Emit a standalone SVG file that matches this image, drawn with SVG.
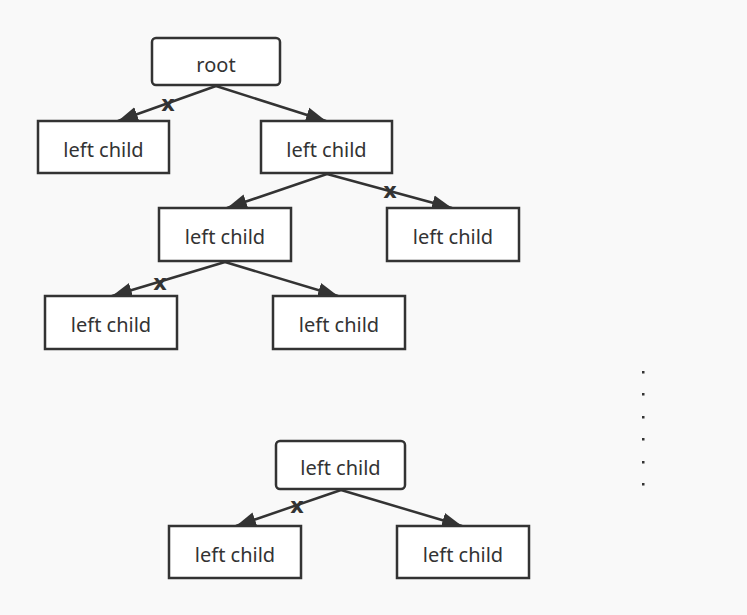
<svg xmlns="http://www.w3.org/2000/svg" width="747" height="615" viewBox="0 0 747 615">
<defs>
<style>
.box{fill:#fff;stroke:#333;stroke-width:2.5}
.lbl{font-family:"Noto Sans","Open Sans",sans-serif;font-size:20px;fill:#333;text-anchor:middle}
.edge{stroke:#333;stroke-width:2.5;fill:none;marker-end:url(#arr)}
.cut{font-family:"DejaVu Sans","Liberation Sans",sans-serif;font-size:21px;font-weight:bold;fill:#333;text-anchor:middle}
.dot{fill:#333}
</style>
<marker id="arr" markerUnits="userSpaceOnUse" markerWidth="22" markerHeight="18" viewBox="0 0 22 18" refX="20" refY="9" orient="auto">
<path d="M0,1.5 L20,9 L0,16.5 Z" fill="#333"/>
</marker>
</defs>
<rect width="747" height="615" fill="#f9f9f9"/>
<g id="connectors">
<line class="edge" x1="216" y1="86" x2="118" y2="121"/>
<line class="edge" x1="216" y1="86" x2="326" y2="121"/>
<line class="edge" x1="327" y1="174" x2="227" y2="208"/>
<line class="edge" x1="327" y1="174" x2="452" y2="208"/>
<line class="edge" x1="225" y1="262" x2="112" y2="296"/>
<line class="edge" x1="225" y1="262" x2="338" y2="296"/>
<line class="edge" x1="341" y1="490" x2="236" y2="526"/>
<line class="edge" x1="341" y1="490" x2="462" y2="526"/>
<text class="cut" x="168" y="111">x</text>
<text class="cut" x="390" y="198">x</text>
<text class="cut" x="160" y="290">x</text>
<text class="cut" x="297" y="513">x</text>
</g>
<g id="root"><rect class="box" x="152" y="38" width="128" height="47" rx="4"/><text class="lbl" x="216" y="72">root</text></g>
<g id="n1"><rect class="box" x="38" y="121" width="131" height="52"/><text class="lbl" x="103.5" y="157">left child</text></g>
<g id="n2"><rect class="box" x="261" y="121" width="131" height="52"/><text class="lbl" x="326.5" y="157">left child</text></g>
<g id="n3"><rect class="box" x="159" y="208" width="132" height="53"/><text class="lbl" x="225" y="244">left child</text></g>
<g id="n4"><rect class="box" x="387" y="208" width="132" height="53"/><text class="lbl" x="453" y="244">left child</text></g>
<g id="n5"><rect class="box" x="45" y="296" width="132" height="53"/><text class="lbl" x="111" y="332">left child</text></g>
<g id="n6"><rect class="box" x="273" y="296" width="132" height="53"/><text class="lbl" x="339" y="332">left child</text></g>
<g id="n7"><rect class="box" x="276" y="441" width="129" height="48" rx="4"/><text class="lbl" x="340.5" y="475">left child</text></g>
<g id="n8"><rect class="box" x="169" y="526" width="132" height="52"/><text class="lbl" x="235" y="562">left child</text></g>
<g id="n9"><rect class="box" x="397" y="526" width="132" height="52"/><text class="lbl" x="463" y="562">left child</text></g>
<g id="dots">
<rect class="dot" x="642" y="371" width="2.5" height="2.5"/>
<rect class="dot" x="642" y="393" width="2.5" height="2.5"/>
<rect class="dot" x="642" y="416" width="2.5" height="2.5"/>
<rect class="dot" x="642" y="438" width="2.5" height="2.5"/>
<rect class="dot" x="642" y="461" width="2.5" height="2.5"/>
<rect class="dot" x="642" y="483" width="2.5" height="2.5"/>
</g>
</svg>
